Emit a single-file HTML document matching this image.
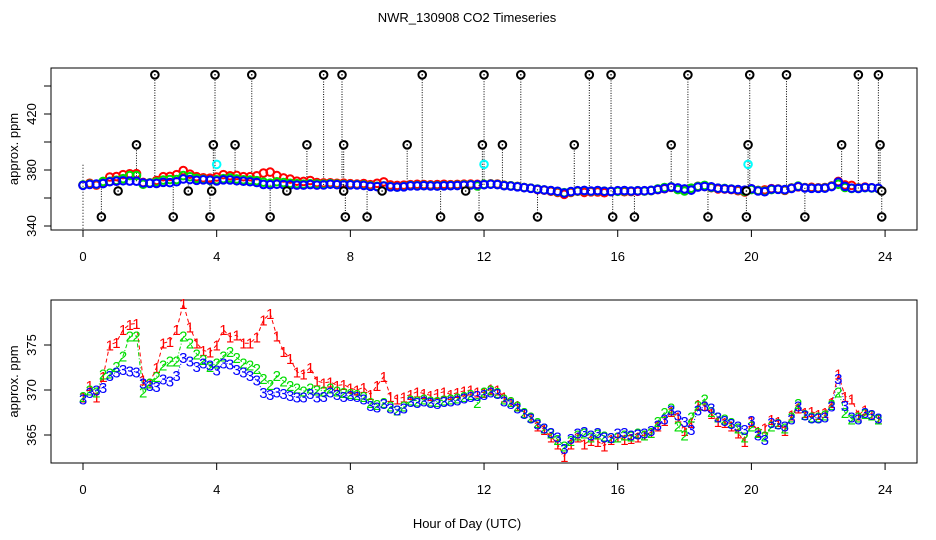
<!DOCTYPE html>
<html><head><meta charset="utf-8">
<style>
html,body{margin:0;padding:0;background:#fff;}
svg{display:block;font-family:"Liberation Sans",sans-serif;}
</style></head>
<body>
<svg id="chart" width="936" height="540" viewBox="0 0 936 540">
<text x="467" y="22" text-anchor="middle" font-size="13">NWR_130908  CO2 Timeseries</text>
<text x="467" y="528" text-anchor="middle" font-size="13">Hour of Day (UTC)</text>
<g id="top"></g>
<g id="bot"></g>
</svg>
<script>
const hours = [];
for (let i = 0; i < 120; i++) hours.push(+(i*0.2).toFixed(1));
const series3 = [369.0,369.7,370.0,370.3,371.6,372.0,372.3,372.1,372.0,370.8,370.5,370.4,371.2,371.0,371.6,373.6,373.2,372.6,373.0,372.8,372.2,373.0,372.9,372.3,372.0,371.6,371.1,369.7,369.5,369.8,369.6,369.4,369.2,369.2,369.6,369.2,369.3,369.8,369.5,369.3,369.4,369.3,369.0,368.3,368.1,368.5,368.0,367.8,368.0,368.7,368.6,368.8,368.6,368.5,368.7,368.8,368.9,369.1,369.3,369.4,369.5,369.8,369.6,368.8,368.5,368.0,367.4,366.9,366.2,365.8,365.3,364.8,363.5,364.6,365.2,365.4,365.0,365.3,364.8,364.7,365.2,365.3,365.0,365.1,365.2,365.5,366.1,366.8,367.8,367.2,366.5,365.6,367.8,368.2,368.0,367.0,366.6,366.3,366.0,365.6,366.6,365.0,364.5,366.4,366.2,366.0,366.8,368.2,367.2,366.9,366.9,367.0,368.2,371.3,368.3,367.0,366.8,367.5,367.3,366.9];
const series2 = [369.3,370.0,369.8,371.8,371.9,372.6,373.8,376.0,376.0,369.8,370.8,371.5,372.8,373.2,373.2,376.0,375.2,374.0,373.4,372.6,373.0,373.8,374.3,373.6,373.0,372.8,372.4,371.3,370.6,371.6,371.0,370.5,370.2,369.9,370.2,370.0,369.9,370.2,369.9,369.7,369.6,369.5,369.3,368.6,368.4,368.6,368.2,367.8,368.2,368.9,368.8,369.0,368.8,368.7,368.9,369.0,369.1,369.3,369.5,368.6,369.8,370.0,369.7,369.0,368.7,368.2,367.5,367.0,366.4,365.8,365.2,364.5,363.8,364.4,365.0,365.2,364.8,365.1,364.9,364.7,364.8,365.0,364.9,365.2,365.0,365.3,366.5,367.5,368.0,366.0,365.0,367.0,368.3,369.0,367.6,367.0,366.8,366.4,365.8,364.8,366.0,365.3,364.9,366.0,366.3,365.8,367.0,368.5,367.3,367.0,367.0,367.2,368.4,369.8,367.5,366.8,367.0,367.4,367.2,366.8];
const series1 = [369.2,370.5,369.2,371.5,375.0,375.3,376.7,377.3,377.4,371.1,370.8,372.5,375.2,375.4,376.7,379.6,377.0,375.2,374.4,374.2,375.0,376.7,375.9,376.1,375.2,375.2,375.9,377.8,378.5,376.0,374.3,373.5,372.0,371.8,372.5,371.0,370.8,370.9,370.5,370.6,370.2,370.0,370.3,369.5,370.5,371.5,369.3,369.0,369.2,369.5,369.8,369.6,369.4,369.6,369.8,369.5,369.7,369.9,370.0,369.8,369.7,370.1,370.0,369.2,368.7,368.3,367.5,367.0,366.0,365.6,364.8,364.0,362.6,364.0,364.8,364.0,364.4,364.3,363.8,364.5,364.8,364.5,364.6,364.8,365.0,365.3,366.0,366.6,367.6,367.0,365.5,366.4,368.4,368.3,367.4,366.5,366.4,366.0,365.2,364.3,366.5,365.4,365.8,366.7,366.5,365.5,367.2,368.0,367.5,367.6,367.3,367.5,368.6,371.8,369.3,369.0,367.2,367.8,367.3,366.8];
const outlierHours = [2.15,3.95,5.05,7.2,7.75,10.15,12.0,13.1,15.15,15.8,18.1,19.95,21.05,23.2,23.8, 1.6,3.9,4.55,6.7,7.8,9.7,11.95,12.55,14.7,17.6,19.9,22.7,23.85, 0.55,2.7,3.8,5.6,7.85,8.5,10.7,11.85,13.6,15.85,16.5,18.7,19.85,21.6,23.9, 1.05,3.15,3.85,6.1,7.8,8.95,11.45,19.85,23.9];
const outlierVals = [448,448,448,448,448,448,448,448,448,448,448,448,448,448,448, 398,398,398,398,398,398,398,398,398,398,398,398,398, 346.5,346.5,346.5,346.5,346.5,346.5,346.5,346.5,346.5,346.5,346.5,346.5,346.5,346.5,346.5, 365,365,365,365,365,365,365,365,365];
const cyanHours = [4.0,12.0,19.9];
const cyanVals = [384,384,384];
const topTicksY = [340,360,380,400,420,440];
const topTickLabelsY = ["340","","380","","420",""];
const botTicksY = [365,370,375];
const xTicks = [0,4,8,12,16,20,24];

const NS = "http://www.w3.org/2000/svg";
function mk(tag, attrs, parent){ const e=document.createElementNS(NS,tag); for(const k in attrs) e.setAttribute(k,attrs[k]); parent.appendChild(e); return e; }
const X = h => 83 + h*33.42;
const Ytop = v => 226 - (v-340)*1.4;
const Ybot = v => 390 - (v-370)*9;
const L=51, R=917;

function axes(g, top, bottom, yfun, yticks, ylabels, name){
  const box = mk('rect',{x:L,y:top,width:R-L,height:bottom-top,fill:'none',stroke:'#000','stroke-width':1},g);
  
  
  const xa = mk('line',{x1:X(0),x2:X(24),y1:bottom,y2:bottom,stroke:'#000'},g);
  
  
  xTicks.forEach(t=>{
    const tk = mk('line',{x1:X(t),x2:X(t),y1:bottom,y2:bottom+7,stroke:'#000'},g);
    
    
    const lb = mk('text',{x:X(t),y:bottom+31,'text-anchor':'middle','font-size':13},g);
    lb.textContent = t;
    
    
  });
  const ya = mk('line',{x1:L,x2:L,y1:yfun(yticks[0]),y2:yfun(yticks[yticks.length-1]),stroke:'#000'},g);
  
  
  yticks.forEach((t,i)=>{
    const y=yfun(t);
    const tk = mk('line',{x1:L-7,x2:L,y1:y,y2:y,stroke:'#000'},g);
    
    
    const lab = ylabels ? ylabels[i] : String(t);
    if(lab){
      const lb = mk('text',{x:0,y:0,'text-anchor':'middle','font-size':13,transform:`translate(36,${y}) rotate(-90)`},g);
      lb.textContent = lab;
      
      
    }
  });
  const yt = mk('text',{x:0,y:0,'text-anchor':'middle','font-size':13,transform:`translate(18,${(top+bottom)/2}) rotate(-90)`},g);
  yt.textContent='approx. ppm';
  
  
}

// TOP PANEL
const gt = document.getElementById('top');
axes(gt, 68, 230, Ytop, topTicksY, topTickLabelsY, 'top');
const d0 = mk('line',{x1:X(0),x2:X(0),y1:Ytop(338),y2:Ytop(384),stroke:'#000','stroke-dasharray':'1,2'},gt);


outlierHours.forEach((h,i)=>{
  const idx = Math.min(119, Math.round(h/0.2));
  const ln = mk('line',{x1:X(h),x2:X(h),y1:Ytop(series3[idx]),y2:Ytop(outlierVals[i]),stroke:'#000','stroke-dasharray':'1,1.5','stroke-width':1},gt);
  
  
});
[[series1,'#ff0000','red'],[series2,'#00dd00','green'],[series3,'#0000ff','blue']].forEach(([s,c,n])=>{
  s.forEach((v,i)=>{
    const ci = mk('circle',{cx:X(hours[i]),cy:Ytop(v),r:3.8,fill:'none',stroke:c,'stroke-width':2},gt);
    
    
  });
});
outlierHours.forEach((h,i)=>{
  const ci = mk('circle',{cx:X(h),cy:Ytop(outlierVals[i]),r:3.8,fill:'#fff',stroke:'#000','stroke-width':2},gt);
  
  
  const dt = mk('circle',{cx:X(h),cy:Ytop(outlierVals[i]),r:0.8,fill:'#000'},gt);
  
  
});
cyanHours.forEach((h,i)=>{
  const ci = mk('circle',{cx:X(h),cy:Ytop(cyanVals[i]),r:3.8,fill:'none',stroke:'#00ffff','stroke-width':2},gt);
  
  
});

// BOTTOM PANEL
const gb = document.getElementById('bot');
axes(gb, 300, 463, Ybot, botTicksY, null, 'bottom');
[[series1,'#ff0000','1','4,3'],[series2,'#00dd00','2','4,2,1,2'],[series3,'#0000ff','3','1,2']].forEach(([s,c,ch,da])=>{
  const pts = s.map((v,i)=>X(hours[i]).toFixed(1)+','+Ybot(v).toFixed(1)).join(' ');
  const pl = mk('polyline',{points:pts,fill:'none',stroke:c,'stroke-width':1,'stroke-dasharray':da},gb);
  
  
});
[[series1,'#ff0000','1'],[series2,'#00dd00','2'],[series3,'#0000ff','3']].forEach(([s,c,ch])=>{
  s.forEach((v,i)=>{
    const t = mk('text',{x:X(hours[i]),y:Ybot(v)+5.5,'text-anchor':'middle','font-size':15,fill:c},gb);
    t.textContent = ch;
    
    
  });
});
</script>
</body></html>
